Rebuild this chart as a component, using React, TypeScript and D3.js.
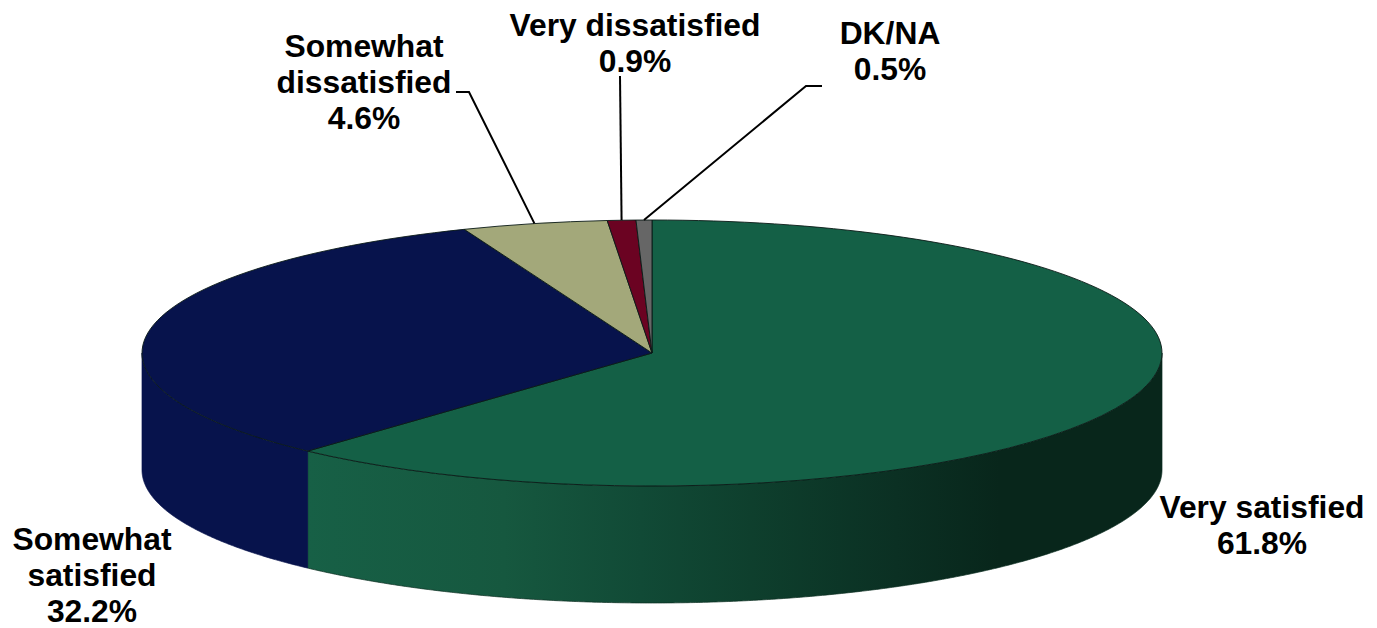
import * as d3 from "d3"
import { useEffect, useRef } from "react"

const categories = ["Very satisfied", "Somewhat satisfied", "Somewhat dissatisfied", "Very dissatisfied", "DK/NA"]
const values = [61.8, 32.2, 4.6, 0.9, 0.5]
const colors = ["#146046", "#07134c", "#a3a87a", "#6b0322", "#666666"]

// label lines and where each one sits
const labelLines = [
  ["Very satisfied", "61.8%"],
  ["Somewhat", "satisfied", "32.2%"],
  ["Somewhat", "dissatisfied", "4.6%"],
  ["Very dissatisfied", "0.9%"],
  ["DK/NA", "0.5%"],
]
const labelAnchors = [
  { x: 1262, y: 518 },
  { x: 92, y: 550 },
  { x: 364, y: 57 },
  { x: 635, y: 36 },
  { x: 890, y: 44 },
]
// leader elbows, null when the label has no leader
const leaders: ([number, number][] | null)[] = [
  null,
  null,
  [[456, 92], [469, 92]],
  [[620, 76]],
  [[822, 86], [806, 86]],
]

const App = () => {
  const svgRef = useRef<SVGSVGElement | null>(null)

  useEffect(() => {
    if (!svgRef.current) return
    const svg = d3.select(svgRef.current)
    svg.selectAll("*").remove()

    const width = 1377
    const height = 628
    const cx = 652
    const cy = 353
    const rx = 510
    const ry = 133
    const depth = 117

    svg.attr("viewBox", `0 0 ${width} ${height}`)

    const pie = d3.pie<number>().sort(null).value((d) => d)
    const slices = pie(values)

    // clockwise from 12 o'clock, flattened to the tilted ellipse
    const px = (a: number) => cx + rx * Math.sin(a)
    const py = (a: number) => cy - ry * Math.cos(a)

    const defs = svg.append("defs")
    const green = defs
      .append("linearGradient")
      .attr("id", "wall-green")
      .attr("gradientUnits", "userSpaceOnUse")
      .attr("x1", px(slices[0].endAngle))
      .attr("x2", cx + rx)
      .attr("y1", 0)
      .attr("y2", 0)
    const stops: [number, string][] = [
      [0, "#176046"],
      [0.23, "#16583f"],
      [0.39, "#114a36"],
      [0.52, "#0e3f2d"],
      [0.69, "#0b3023"],
      [0.81, "#08261b"],
      [1, "#08261b"],
    ]
    stops.forEach(([o, c]) => green.append("stop").attr("offset", o).attr("stop-color", c))

    const wallFill = ["url(#wall-green)", "#07134c"]
    const wallLine = d3
      .line<number>()
      .x((a) => px(a))
      .y((a) => py(a))

    // side wall only for the front half of the ellipse
    const wall = svg.append("g")
    slices.slice(0, 2).forEach((s, i) => {
      const a0 = Math.max(s.startAngle, Math.PI / 2)
      const a1 = Math.min(s.endAngle, (3 * Math.PI) / 2)
      if (a1 <= a0) return
      const angles = d3.range(a0, a1, 0.005).concat(a1)
      const top = wallLine(angles)
      const bottom = d3
        .line<number>()
        .x((a) => px(a))
        .y((a) => py(a) + depth)(angles.slice().reverse())
      wall
        .append("path")
        .attr("d", `${top}L${(bottom as string).slice(1)}Z`)
        .attr("fill", wallFill[i])
        .attr("stroke", wallFill[i] === "#07134c" ? "#07134c" : "#0a2c20")
        .attr("stroke-width", 0.7)
    })

    // top face
    const arc = d3
      .arc<d3.PieArcDatum<number>>()
      .innerRadius(0)
      .outerRadius(rx)
    svg
      .append("g")
      .attr("transform", `translate(${cx},${cy}) scale(1,${ry / rx})`)
      .selectAll("path")
      .data(slices)
      .enter()
      .append("path")
      .attr("d", (d) => arc(d))
      .attr("fill", (_, i) => colors[i])
      .attr("stroke", "#0a1a16")
      .attr("stroke-width", 0.9)
      .attr("vector-effect", "non-scaling-stroke")

    // leader lines end on the rim at the slice's middle angle
    const leaderPath = d3.line()
    svg
      .append("g")
      .selectAll("path")
      .data(slices.map((s, i) => ({ s, pts: leaders[i] })).filter((d) => d.pts))
      .enter()
      .append("path")
      .attr("d", (d) => {
        const mid = (d.s.startAngle + d.s.endAngle) / 2
        return leaderPath([...(d.pts as [number, number][]), [px(mid), py(mid)]])
      })
      .attr("fill", "none")
      .attr("stroke", "#000")
      .attr("stroke-width", 2)

    // labels
    const labels = svg
      .append("g")
      .style("font", "bold 31.8px 'Liberation Sans', Arial, sans-serif")
      .attr("text-anchor", "middle")
      .attr("fill", "#000")
    categories.forEach((_, i) => {
      labelLines[i].forEach((line, j) => {
        labels
          .append("text")
          .attr("x", labelAnchors[i].x)
          .attr("y", labelAnchors[i].y + j * 36)
          .text(line)
      })
    })
  }, [])

  return (
    <svg
      ref={svgRef}
      width={1377}
      height={628}
      style={{ position: "absolute", left: 0, top: 0, background: "#fff" }}
    />
  )
}

export default App
